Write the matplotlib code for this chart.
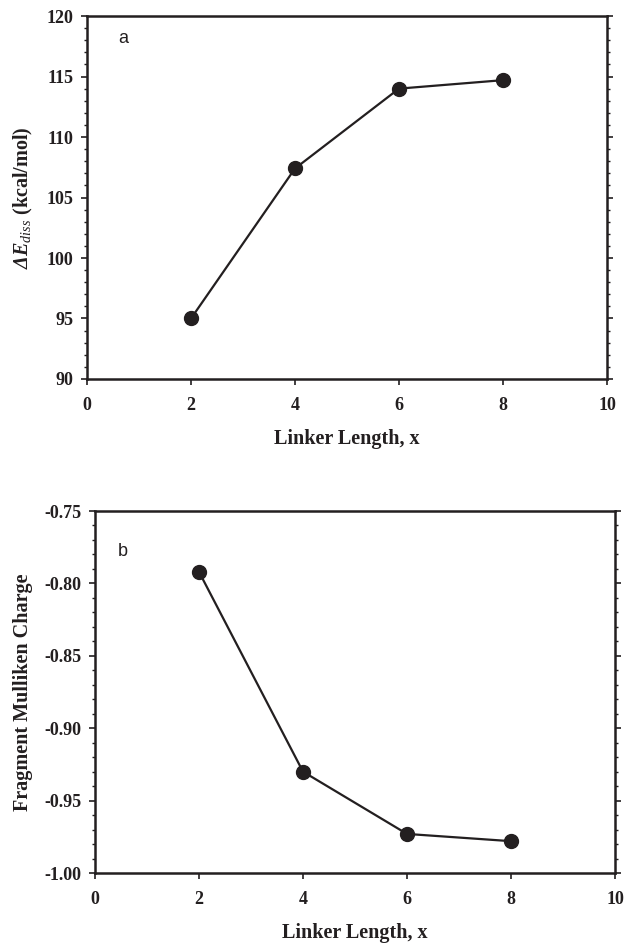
import matplotlib
matplotlib.use('Agg')
import matplotlib.pyplot as plt
from matplotlib.ticker import MultipleLocator, FormatStrFormatter

# linker length and the two computed quantities
linker = [2, 4, 6, 8]
e_diss = [95.0, 107.4, 114.0, 114.7]
mulliken = [-0.792, -0.930, -0.973, -0.978]

ink = '#231f20'
plt.rcParams['font.family'] = 'Liberation Serif'
plt.rcParams['mathtext.fontset'] = 'custom'
plt.rcParams['mathtext.rm'] = 'Liberation Serif:bold'
plt.rcParams['mathtext.it'] = 'Liberation Serif:italic'
plt.rcParams['mathtext.bf'] = 'Liberation Serif:bold'
plt.rcParams['mathtext.bfit'] = 'Liberation Serif:italic:bold'

fig = plt.figure(figsize=(6.25, 9.43), dpi=100)
ax1 = fig.add_axes([0.1392, 0.5981, 0.832, 0.3849])
ax2 = fig.add_axes([0.152, 0.0742, 0.832, 0.3839])


def style(ax, ymaj, ymin, fmt):
    for s in ax.spines.values():
        s.set_linewidth(1.8)
        s.set_color(ink)
    ax.set_xlim(0, 10)
    ax.xaxis.set_major_locator(MultipleLocator(2))
    ax.yaxis.set_major_locator(MultipleLocator(ymaj))
    ax.yaxis.set_minor_locator(MultipleLocator(ymin))
    ax.yaxis.set_major_formatter(FormatStrFormatter(fmt))
    ax.tick_params(axis='both', which='both', direction='out', color=ink,
                   labelsize=13, labelcolor=ink)
    ax.tick_params(axis='y', which='both', right=True)
    ax.tick_params(axis='both', which='major', length=4, width=1.2, pad=6)
    ax.tick_params(axis='x', which='major', pad=9)
    ax.tick_params(axis='y', which='minor', length=2.2, width=1.0)
    for lab in ax.get_xticklabels() + ax.get_yticklabels():
        lab.set_fontweight('bold')


ax1.plot(linker, e_diss, '-o', color=ink, lw=1.6, ms=10)
ax1.set_ylim(90, 120)
style(ax1, 5, 1, '%d')
ax1.set_xlabel('Linker Length, x', fontsize=14.5, fontweight='bold', color=ink, labelpad=11)
ax1.set_ylabel(r'$\mathbfit{\Delta E}_{\mathit{diss}}$ (kcal/mol)', fontsize=14.5,
               fontweight='bold', color=ink, labelpad=8)
ax1.text(0.07, 0.937, 'a', transform=ax1.transAxes, fontsize=13,
         family='Liberation Sans', color=ink, va='center', ha='center')

ax2.plot(linker, mulliken, '-o', color=ink, lw=1.6, ms=10)
ax2.set_ylim(-1.0, -0.75)
style(ax2, 0.05, 0.01, '%.2f')
ax2.set_xlabel('Linker Length, x', fontsize=14.5, fontweight='bold', color=ink, labelpad=11)
ax2.set_ylabel('Fragment Mulliken Charge', fontsize=14.5, fontweight='bold', color=ink,
               labelpad=8)
ax2.text(0.054, 0.887, 'b', transform=ax2.transAxes, fontsize=13,
         family='Liberation Sans', color=ink, va='center', ha='center')

fig.savefig('out.png', dpi=100)
